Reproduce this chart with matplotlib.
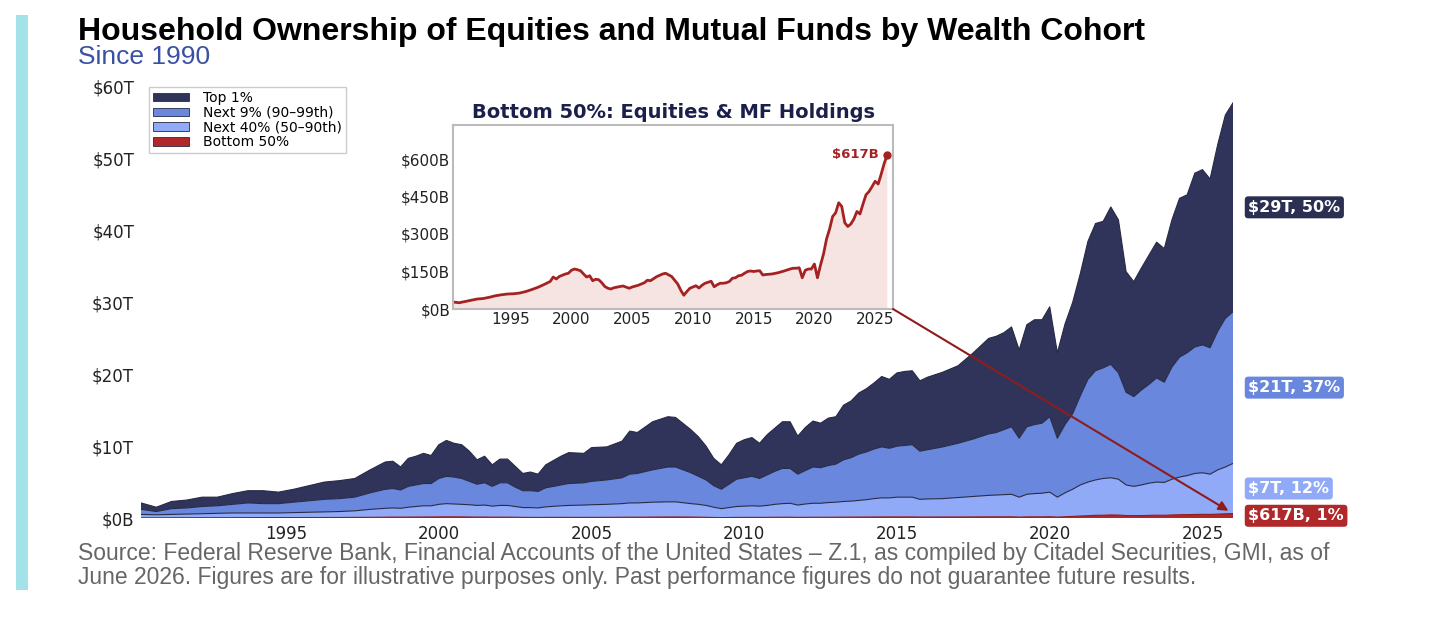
import matplotlib
matplotlib.use('Agg')
import matplotlib.pyplot as plt
from matplotlib.patches import ConnectionPatch, Rectangle
import numpy as np

plt.rcParams['font.family'] = ['DejaVu Sans']

# ---------------- data ----------------
dates = [1990.25, 1990.75, 1991.25, 1991.75, 1992.25, 1992.75, 1993.25, 1993.75, 1994.25, 1994.75,
         1995.25, 1995.75, 1996.25, 1996.75, 1997.25, 1997.75, 1998.25, 1998.5, 1998.75, 1999.0,
         1999.25, 1999.5, 1999.75, 2000.0, 2000.25, 2000.5, 2000.75, 2001.0, 2001.25, 2001.5,
         2001.75, 2002.0, 2002.25, 2002.5, 2002.75, 2003.0, 2003.25, 2003.5, 2004.0, 2004.25,
         2004.75, 2005.0, 2005.5, 2006.0, 2006.25, 2006.5, 2007.0, 2007.5, 2007.75, 2008.25,
         2008.5, 2008.75, 2009.0, 2009.25, 2009.5, 2009.75, 2010.0, 2010.25, 2010.5, 2010.75,
         2011.0, 2011.25, 2011.5, 2011.75, 2012.0, 2012.25, 2012.5, 2012.75, 2013.0, 2013.25,
         2013.5, 2013.75, 2014.0, 2014.25, 2014.5, 2014.75, 2015.0, 2015.25, 2015.5, 2015.75,
         2016.0, 2016.5, 2017.0, 2017.5, 2018.0, 2018.25, 2018.5, 2018.75, 2019.0, 2019.25,
         2019.5, 2019.75, 2020.0, 2020.25, 2020.5, 2020.75, 2021.0, 2021.25, 2021.5, 2021.75,
         2022.0, 2022.25, 2022.5, 2022.75, 2023.0, 2023.25, 2023.5, 2023.75, 2024.0, 2024.25,
         2024.5, 2024.75, 2025.0, 2025.25, 2025.5, 2025.75, 2026.0]

# cumulative top of each band, trillions of dollars
total_top = [2.1, 1.5, 2.3, 2.5, 2.9, 2.9, 3.4, 3.8, 3.8, 3.6,
             4.0, 4.5, 5.0, 5.2, 5.5, 6.7, 7.8, 7.9, 7.1, 8.3,
             8.6, 9.0, 8.7, 10.2, 10.8, 10.4, 10.2, 9.3, 8.1, 8.6,
             7.4, 8.2, 8.2, 7.2, 6.2, 6.4, 6.1, 7.4, 8.6, 9.1,
             9.0, 9.8, 9.9, 10.7, 12.1, 11.9, 13.4, 14.1, 14.0, 12.3,
             11.3, 10.0, 8.3, 7.4, 8.8, 10.4, 10.9, 11.2, 10.4, 11.6,
             12.5, 13.4, 13.4, 11.4, 12.6, 13.5, 13.2, 13.9, 14.1, 15.7,
             16.3, 17.4, 18.0, 18.8, 19.7, 19.3, 20.2, 20.4, 20.5, 19.1,
             19.6, 20.3, 21.2, 23.0, 25.0, 25.3, 25.8, 26.6, 23.4, 26.9,
             27.6, 27.6, 29.4, 23.0, 27.0, 30.0, 34.0, 38.5, 41.0, 41.3,
             43.3, 41.5, 34.3, 32.9, 34.8, 36.6, 38.4, 37.5, 41.5, 44.5,
             45.0, 48.0, 48.5, 47.2, 52.0, 56.1, 57.8]

next9_top = [1.2, 0.9, 1.3, 1.4, 1.6, 1.7, 1.9, 2.1, 2.0, 2.0,
             2.2, 2.4, 2.6, 2.7, 2.9, 3.5, 4.0, 4.1, 3.9, 4.4,
             4.6, 4.8, 4.8, 5.5, 5.8, 5.7, 5.5, 5.1, 4.7, 4.9,
             4.4, 4.9, 4.9, 4.3, 3.8, 3.8, 3.7, 4.2, 4.6, 4.8,
             4.9, 5.1, 5.3, 5.6, 6.1, 6.2, 6.7, 7.1, 7.1, 6.3,
             5.8, 5.3, 4.5, 4.0, 4.7, 5.4, 5.6, 5.8, 5.5, 6.0,
             6.5, 6.9, 6.9, 6.1, 6.6, 7.1, 7.0, 7.3, 7.5, 8.1,
             8.4, 8.9, 9.2, 9.6, 9.9, 9.7, 10.0, 10.1, 10.2, 9.3,
             9.5, 9.9, 10.4, 11.0, 11.7, 11.9, 12.3, 12.7, 11.1, 12.7,
             13.0, 13.2, 14.1, 11.1, 13.0, 14.5, 17.0, 19.3, 20.5, 20.9,
             21.4, 20.2, 17.5, 16.9, 17.8, 18.6, 19.5, 18.9, 21.0, 22.4,
             23.0, 23.8, 24.1, 23.7, 26.0, 27.8, 28.7]

next40_top = [0.50, 0.45, 0.50, 0.55, 0.60, 0.65, 0.70, 0.70, 0.70, 0.70,
              0.75, 0.80, 0.85, 0.90, 1.00, 1.20, 1.35, 1.40, 1.35, 1.50,
              1.60, 1.70, 1.70, 1.90, 2.00, 1.95, 1.90, 1.85, 1.75, 1.80,
              1.65, 1.75, 1.75, 1.60, 1.45, 1.45, 1.40, 1.55, 1.70, 1.75,
              1.80, 1.85, 1.90, 2.00, 2.10, 2.10, 2.20, 2.25, 2.25, 2.00,
              1.90, 1.75, 1.50, 1.30, 1.45, 1.60, 1.65, 1.70, 1.65, 1.75,
              1.90, 2.00, 2.05, 1.80, 1.95, 2.05, 2.05, 2.15, 2.20, 2.30,
              2.35, 2.45, 2.55, 2.70, 2.80, 2.80, 2.90, 2.90, 2.90, 2.60,
              2.65, 2.70, 2.85, 3.00, 3.15, 3.20, 3.25, 3.30, 2.90, 3.30,
              3.40, 3.45, 3.60, 2.90, 3.50, 4.00, 4.60, 5.00, 5.30, 5.50,
              5.60, 5.40, 4.60, 4.40, 4.60, 4.85, 5.00, 4.95, 5.40, 5.70,
              5.90, 6.20, 6.30, 6.10, 6.70, 7.10, 7.60]

# bottom 50% holdings, billions of dollars
bottom50_B = [28, 25, 30, 35, 40, 42, 47, 53, 57, 60,
              61, 64, 70, 78, 87, 98, 110, 128, 120, 130,
              135, 140, 143, 155, 160, 157, 153, 140, 128, 133,
              113, 119, 117, 105, 90, 83, 80, 85, 90, 92,
              83, 88, 95, 105, 115, 113, 129, 140, 143, 130,
              115, 100, 75, 55, 70, 83, 88, 93, 84, 95,
              103, 107, 111, 89, 97, 103, 103, 105, 110, 123,
              125, 133, 135, 143, 150, 152, 150, 152, 153, 136,
              138, 140, 145, 152, 160, 163, 163, 165, 125, 155,
              160, 160, 180, 125, 175, 220, 280, 320, 370, 385,
              425, 410, 345, 330, 340, 360, 390, 380, 420, 457,
              470, 490, 511, 500, 540, 583, 617]

cohorts = ['Top 1%', 'Next 9% (90–99th)', 'Next 40% (50–90th)', 'Bottom 50%']
cohort_colors = ['#30345a', '#6a87de', '#91aaf7', '#b0282a']
end_labels = ['$29T, 50%', '$21T, 37%', '$7T, 12%', '$617B, 1%']

y_ticks = [0, 10, 20, 30, 40, 50, 60]
y_tick_labels = ['$0B', '$10T', '$20T', '$30T', '$40T', '$50T', '$60T']
x_ticks = [1995, 2000, 2005, 2010, 2015, 2020, 2025]
inset_y_ticks = [0, 150, 300, 450, 600]
inset_y_labels = ['$0B', '$150B', '$300B', '$450B', '$600B']

title = 'Household Ownership of Equities and Mutual Funds by Wealth Cohort'
subtitle = 'Since 1990'
inset_title = 'Bottom 50%: Equities & MF Holdings'
source = ('Source: Federal Reserve Bank, Financial Accounts of the United States – Z.1, as compiled by Citadel Securities, GMI, as of\n'
          'June 2026. Figures are for illustrative purposes only. Past performance figures do not guarantee future results.')

# ---------------- figure ----------------
W, H = 1456, 617
fig = plt.figure(figsize=(W / 100, H / 100), dpi=100)
fig.patch.set_facecolor('white')

# teal accent bar
fig.add_artist(Rectangle((16 / W, 1 - 590 / H), 12 / W, 575 / H,
                         transform=fig.transFigure, facecolor='#a3e2e7', edgecolor='none'))

fig.text(78 / W, 1 - 40 / H, title, fontfamily='Liberation Sans', fontweight='bold',
         fontsize=23, color='black', ha='left', va='baseline')
fig.text(78 / W, 1 - 64 / H, subtitle, fontfamily='Liberation Sans', fontsize=19,
         color='#3a51a3', ha='left', va='baseline')
fig.text(78 / W, 1 - 584 / H, source, fontfamily='Liberation Sans', fontsize=16.5,
         color='#666666', ha='left', va='baseline', linespacing=1.08)

# main axes
ax = fig.add_axes([141 / W, 1 - 518 / H, (1233 - 141) / W, (518 - 87) / H])
d = np.array(dates)
b50_T = np.array(bottom50_B) / 1000.0
t_top = np.array(total_top)
n9 = np.array(next9_top)
n40 = np.array(next40_top)

edge = '#262a44'
h_top = ax.fill_between(d, n9, t_top, facecolor=cohort_colors[0], edgecolor='none', label=cohorts[0])
h_n9 = ax.fill_between(d, n40, n9, facecolor=cohort_colors[1], edgecolor='none', label=cohorts[1])
h_n40 = ax.fill_between(d, b50_T, n40, facecolor=cohort_colors[2], edgecolor='none', label=cohorts[2])
h_b50 = ax.fill_between(d, 0, b50_T, facecolor=cohort_colors[3], edgecolor='none', label=cohorts[3])
for boundary in (t_top, n9, n40):
    ax.plot(d, boundary, color=edge, lw=0.8)
ax.plot(d, b50_T, color='#8e1c1c', lw=0.8)

ax.set_xlim(d[0], d[-1])
ax.set_ylim(0, 60)
ax.set_yticks(y_ticks)
ax.set_yticklabels(y_tick_labels)
ax.set_xticks(x_ticks)
ax.set_xticklabels([str(x) for x in x_ticks])
ax.tick_params(length=0, labelsize=12, colors='#222222', pad=5)
for s in ax.spines.values():
    s.set_visible(False)

leg = ax.legend(handles=[h_top, h_n9, h_n40, h_b50], loc='upper left',
                bbox_to_anchor=(8 / 1092, 1.0), borderaxespad=0, fontsize=10,
                labelspacing=0.05, handlelength=2.6, handleheight=0.55,
                handletextpad=1.0, borderpad=0.3, fancybox=False, framealpha=1)
leg.get_frame().set_edgecolor('#cccccc')
leg.get_frame().set_linewidth(1.0)
for p in leg.get_patches():
    p.set_edgecolor(edge)
    p.set_linewidth(0.6)

# end labels at band midpoints of the last observation
mids = [(n9[-1] + t_top[-1]) / 2, (n40[-1] + n9[-1]) / 2, (b50_T[-1] + n40[-1]) / 2, b50_T[-1] / 2]
box_colors = ['#2b2f52', '#6a87de', '#91aaf7', '#b0282a']
for lab, m, c in zip(end_labels, mids, box_colors):
    ax.annotate(lab, xy=(1, m), xycoords=('axes fraction', 'data'), xytext=(11, 0),
                textcoords='offset points', ha='left', va='center', color='white',
                fontweight='bold', fontsize=11.5,
                bbox=dict(boxstyle='round,pad=0.22', facecolor=c, edgecolor='none'),
                annotation_clip=False)

# inset
axin = fig.add_axes([453 / W, 1 - 309 / H, 440 / W, 184 / H])
b50 = np.array(bottom50_B)
axin.fill_between(d, 0, b50, facecolor='#f5e4e2', edgecolor='none')
axin.plot(d, b50, color='#a52222', lw=2.0)
axin.plot([d[-1]], [b50[-1]], 'o', color='#a52222', ms=5)
axin.annotate('$' + str(bottom50_B[-1]) + 'B', xy=(d[-1], b50[-1]), xytext=(-6, 0),
              textcoords='offset points', ha='right', va='center', color='#a52222',
              fontweight='bold', fontsize=9.5)
axin.set_xlim(d[0], d[-1] + 0.47)
axin.set_ylim(0, 736)
axin.set_yticks(inset_y_ticks)
axin.set_yticklabels(inset_y_labels)
axin.set_xticks(x_ticks)
axin.set_xticklabels([str(x) for x in x_ticks])
axin.tick_params(length=0, labelsize=11, colors='#222222', pad=2)
for s in axin.spines.values():
    s.set_color('#bbbbbb')
    s.set_linewidth(1.5)
axin.set_title(inset_title, fontsize=14, fontweight='bold', color='#1b1f4b', pad=5)

# arrow from inset corner to the bottom-50% band
con = ConnectionPatch(xyA=(1, 0), coordsA=axin.transAxes,
                      xyB=(d[-1] - 0.15, 1.0), coordsB=ax.transData,
                      arrowstyle='-|>', color='#8e1c1c', lw=1.5, mutation_scale=14)
fig.add_artist(con)

fig.savefig('out.png', dpi=100, facecolor='white')
